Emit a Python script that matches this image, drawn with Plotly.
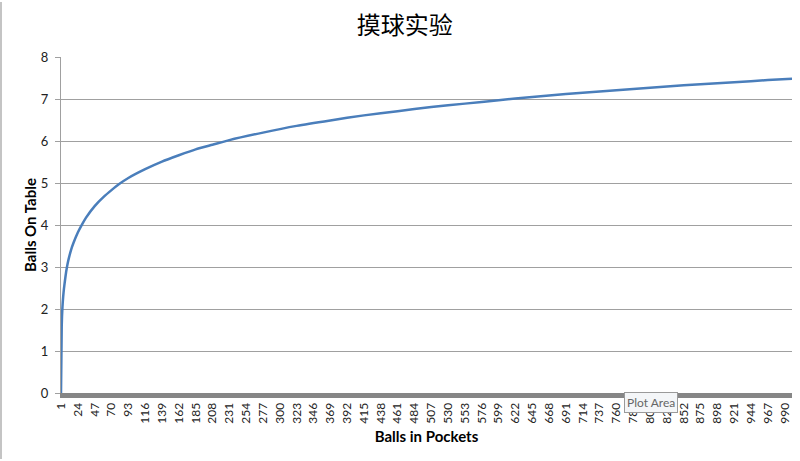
import plotly.graph_objects as go

# Data (category index -> balls on table)
balls_in_pockets = [1, 2, 3, 4, 5, 6, 8, 10, 12, 15, 18, 24, 30, 35, 47, 60, 70, 80, 93,
                    116, 139, 162, 185, 208, 231, 277, 323, 369, 415, 461, 507, 553,
                    599, 645, 691, 737, 783, 829, 875, 921, 967, 1000]
balls_on_table = [0.0, 1.6, 2.05, 2.3, 2.48, 2.62, 2.88, 3.08, 3.23, 3.42, 3.57, 3.82,
                  4.02, 4.17, 4.45, 4.68, 4.83, 4.97, 5.12,
                  5.33, 5.51, 5.66, 5.80, 5.91, 6.02, 6.2, 6.36, 6.49, 6.61, 6.71, 6.81, 6.89,
                  6.97, 7.05, 7.12, 7.18, 7.24, 7.3, 7.35, 7.4, 7.45, 7.48]

x_tick_labels = [1, 24, 47, 70, 93, 116, 139, 162, 185, 208, 231, 254, 277, 300, 323, 346,
                 369, 392, 415, 438, 461, 484, 507, 530, 553, 576, 599, 622, 645, 668, 691,
                 714, 737, 760, 783, 806, 829, 852, 875, 898, 921, 944, 967, 990]
y_tick_labels = [0, 1, 2, 3, 4, 5, 6, 7, 8]

title_text = "摸球实验"
x_title = "Balls in Pockets"
y_title = "Balls On Table"

fig = go.Figure()
fig.add_trace(go.Scatter(
    x=balls_in_pockets, y=balls_on_table, mode="lines",
    line=dict(color="#4A7EBB", width=2.5, shape="spline", smoothing=0.6),
    hoverinfo="skip", showlegend=False,
))

fig.update_layout(
    width=800, height=461,
    margin=dict(l=61, r=8, t=57, b=68),
    paper_bgcolor="white", plot_bgcolor="white",
    title=dict(text=title_text, x=0.506, xanchor="center", y=0.945, yanchor="middle",
               font=dict(family="Noto Sans CJK SC", size=24, color="#000000")),
    font=dict(family="Lato, Noto Sans, sans-serif", color="#222222"),
    xaxis=dict(
        range=[1, 1000], tickmode="array", tickvals=x_tick_labels,
        ticktext=[str(v) for v in x_tick_labels], tickangle=-90,
        tickfont=dict(size=12, family="Lato", color="#222222"),
        showgrid=False, zeroline=False,
        showline=True, linecolor="#868686", linewidth=5,
        ticks="", ticklen=0, automargin=False,
        title=dict(text="<b>" + x_title + "</b>", font=dict(size=15, family="Lato", color="#000000"), standoff=10),
    ),
    yaxis=dict(
        range=[0, 8], tickmode="array", tickvals=y_tick_labels,
        ticktext=[str(v) for v in y_tick_labels],
        tickfont=dict(size=13, family="Lato", color="#222222"),
        showgrid=True, gridcolor="#A0A0A0", gridwidth=1,
        zeroline=False, showline=True, linecolor="#A0A0A0", linewidth=1,
        ticks="outside", ticklen=5, tickcolor="#A0A0A0", automargin=False,
        ticklabelstandoff=4,
        title=dict(text="<b>" + y_title + "</b>", font=dict(size=15, family="Lato", color="#000000"), standoff=0),
    ),
)

# chart frame left edge
fig.add_shape(type="line", xref="paper", yref="paper",
              x0=-60/731, x1=-60/731, y0=-66/336, y1=55/336 + 1,
              line=dict(color="#B0B0B0", width=1.5))

# "Plot Area" tooltip
fig.add_annotation(text="Plot Area", xref="paper", yref="paper",
                   x=(651 - 61) / 731, y=-10 / 336, xanchor="center", yanchor="middle",
                   showarrow=False,
                   font=dict(size=12, family="Lato", color="#666666"),
                   bgcolor="#F4F6F8", bordercolor="#9A9A9A", borderwidth=1, borderpad=2)

fig.write_html("out.html", config={"displayModeBar": False},
               post_script="document.body.style.margin='0';")
